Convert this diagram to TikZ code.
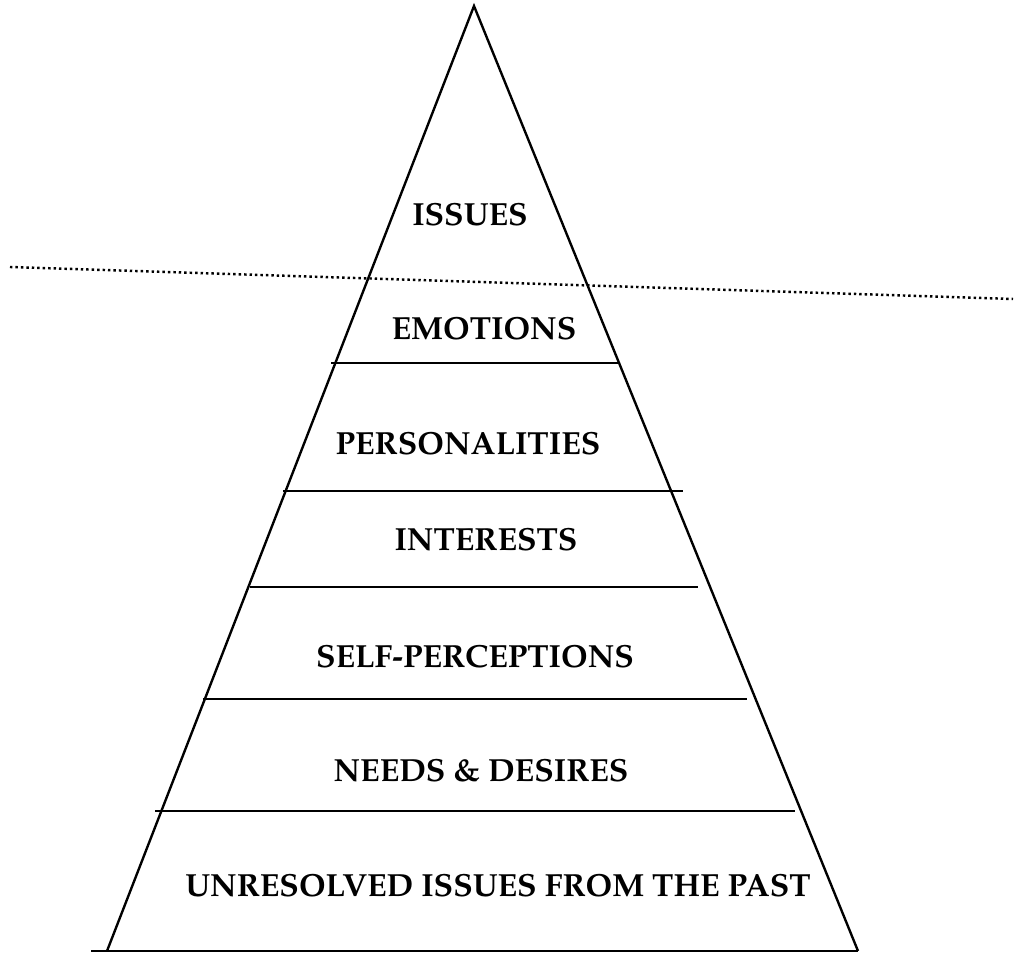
\documentclass[tikz,border=0pt]{standalone}
\usepackage[T1]{fontenc}
\usepackage{mathpazo}
\usepackage{tikz}

\begin{document}
\begin{tikzpicture}[
  x=0.02cm, y=-0.02cm,
  layer/.style={line width=1.35pt},
  waterline/.style={line width=1.4pt, dash pattern=on 1.4pt off 1.7pt},
  lbl/.style={font=\fontsize{18.2}{22}\selectfont\bfseries, inner sep=0pt}
]

\useasboundingbox (0,0) rectangle (1014,955);

\coordinate (top) at (474,6);
\coordinate (bl) at (107,951);
\coordinate (br) at (858,951);

\draw [layer] (bl) -- (top) -- (br);
\draw [layer] (91,951) -- (br);

\draw [layer] (331,363) -- (618,363);
\draw [layer] (283,491) -- (683,491);
\draw [layer] (250,587) -- (698,587);
\draw [layer] (203,699) -- (747,699);
\draw [layer] (155,811) -- (795,811);

\draw [waterline] (10,267) -- (1013,299);

\node [lbl] (issues) at (470,214) {ISSUES};
\node [lbl] (emotions) at (484,328) {EMOTIONS};
\node [lbl] (person) at (468,443) {PERSONALITIES};
\node [lbl] (interests) at (486,539) {INTERESTS};
\node [lbl] (selfperc) at (475,656) {SELF-PERCEPTIONS};
\node [lbl] (needs) at (481,770) {NEEDS \& DESIRES};
\node [lbl] (past) at (498,885) {UNRESOLVED ISSUES FROM THE PAST};

\end{tikzpicture}
\end{document}
